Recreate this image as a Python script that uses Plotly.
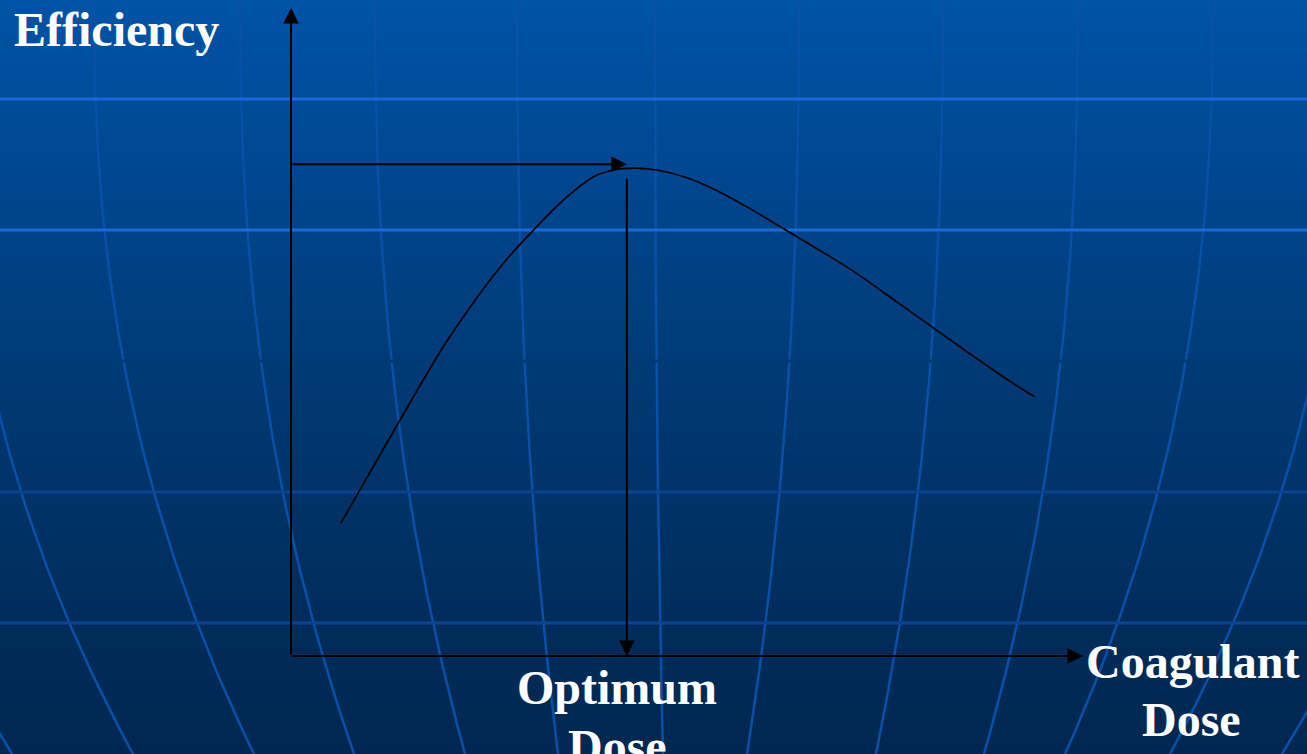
import numpy as np
import plotly.graph_objects as go

W, H = 1307, 754

# ---- chart data (dose on a 0-100 scale along the x axis, efficiency 0-100) ----
dose = [6.3, 11.6, 16.7, 19.8, 26.4, 30.6, 34.8, 38.1, 40.7, 43.2, 46.2,
        50.0, 53.8, 58.0, 62.1, 70.6, 76.9, 83.1, 90.4, 93.9]
efficiency = [20.5, 31.8, 42.6, 48.8, 60.0, 65.7, 70.8, 73.9, 75.0, 75.3, 75.0,
              73.8, 71.8, 69.0, 66.0, 59.7, 54.3, 48.9, 42.7, 40.0]
optimum_dose = 42.4
peak_efficiency = 75.9
axis_max = 100

y_title = "Efficiency"
x_title = ["Coagulant", "Dose"]
optimum_label = ["Optimum", "Dose"]

# ---- slide template background geometry (pixel space) ----
meridian_top = [-186, -46, 94, 240, 375, 517, 655, 799, 943, 1078, 1213, 1348, 1483]
meridian_bottom = [12, 133, 254, 354, 465, 558, 663, 747, 876, 984, 1065, 1170, 1282]
parallel_rows = [99, 230, 361, 492, 623]
parallel_colors = ["rgb(24,106,214)", "rgb(24,106,214)", "rgb(0,58,117)",
                   "rgb(8,68,146)", "rgb(8,68,146)"]
grad_rows = [0, 190, 377, 565, 754]
grad_colors = ["rgb(0,83,167)", "rgb(0,70,142)", "rgb(0,58,117)",
               "rgb(0,47,96)", "rgb(0,39,80)"]

fig = go.Figure()

# gradient backdrop
zcol = [[r, r] for r in grad_rows]
cscale = [[r / H, c] for r, c in zip(grad_rows, grad_colors)]
fig.add_trace(go.Heatmap(x=[0, W], y=grad_rows, z=zcol, colorscale=cscale,
                         zmin=0, zmax=H, zsmooth="best", showscale=False,
                         hoverinfo="skip", xaxis="x", yaxis="y"))

# curved meridians of the template
ys = np.linspace(0, H, 80)
for x0, x1 in zip(meridian_top, meridian_bottom):
    xs = x0 + (x1 - x0) * (ys / H) ** 2.3
    fig.add_trace(go.Scatter(x=xs, y=ys, mode="lines",
                             line=dict(color="rgb(8,80,168)", width=2.5),
                             hoverinfo="skip", showlegend=False,
                             xaxis="x", yaxis="y"))

# horizontal parallels
for yr, col in zip(parallel_rows, parallel_colors):
    fig.add_trace(go.Scatter(x=[0, W], y=[yr, yr], mode="lines",
                             line=dict(color=col, width=2.8),
                             hoverinfo="skip", showlegend=False,
                             xaxis="x", yaxis="y"))

# efficiency curve
fig.add_trace(go.Scatter(x=dose, y=efficiency, mode="lines",
                         line=dict(color="black", width=1.7, shape="spline",
                                   smoothing=1.0),
                         hoverinfo="skip", showlegend=False,
                         xaxis="x2", yaxis="y2"))

annotations = []


def arrow(x, y, ax, ay):
    annotations.append(dict(x=x, y=y, ax=ax, ay=ay, xref="x2", yref="y2",
                            axref="x2", ayref="y2", text="", showarrow=True,
                            arrowhead=2, arrowsize=1.55, arrowwidth=2,
                            arrowcolor="black", standoff=0, startstandoff=0))


arrow(0, axis_max, 0, 0)                               # efficiency axis
arrow(axis_max, 0, 0, 0)                               # dose axis
arrow(optimum_dose, peak_efficiency, 0, peak_efficiency)
arrow(optimum_dose, 0, optimum_dose, peak_efficiency - 2)

font = dict(family="Liberation Serif", size=48, color="white", weight="bold")


def label(text, x, y, xanchor="center"):
    annotations.append(dict(x=x, y=y, xref="x", yref="y", text=text,
                            showarrow=False, xanchor=xanchor, yanchor="middle",
                            font=font))


label(y_title, 12, 29, "left")
label(x_title[0], 1192, 661)
label(x_title[1], 1191, 719)
label(optimum_label[0], 617, 687)
label(optimum_label[1], 617, 746)

hidden = dict(visible=False, showgrid=False, zeroline=False, fixedrange=True)
fig.update_layout(
    width=W, height=H,
    margin=dict(l=0, r=0, t=0, b=0),
    paper_bgcolor="rgb(0,39,80)",
    plot_bgcolor="rgba(0,0,0,0)",
    showlegend=False,
    xaxis=dict(range=[0, W], domain=[0, 1], **hidden),
    yaxis=dict(range=[H, 0], domain=[0, 1], **hidden),
    xaxis2=dict(range=[0, axis_max], domain=[291 / W, 1083 / W],
                anchor="y2", **hidden),
    yaxis2=dict(range=[0, axis_max], domain=[(H - 656) / H, (H - 8) / H],
                anchor="x2", **hidden),
    annotations=annotations,
)

fig.write_html("out.html")
